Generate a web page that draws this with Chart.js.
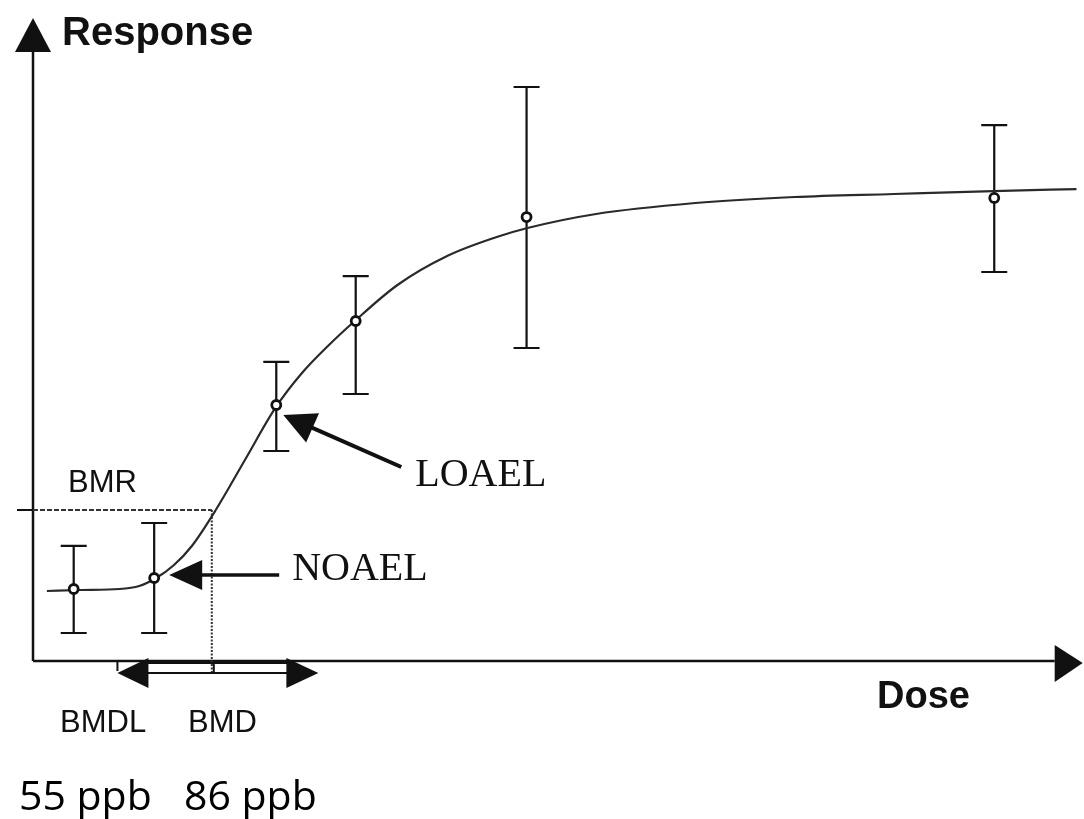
<!DOCTYPE html>
<html>
<head>
<meta charset="utf-8">
<script src="https://cdn.jsdelivr.net/npm/chart.js@4/dist/chart.umd.min.js"></script>
<style>
  html, body { margin: 0; padding: 0; background: #fff; }
  #wrap { width: 1084px; height: 819px; }
</style>
</head>
<body>
<div id="wrap"><canvas id="c" width="1084" height="819"></canvas></div>
<script>
// ---- Data (arbitrary dose / response units) ----
const doseGroups   = [3.90, 11.61, 23.31, 30.92, 47.29, 92.10];
const meanResponse = [11.41, 13.15, 40.57, 53.88, 70.36, 73.38];
const upperBar     = [18.23, 21.87, 47.39, 60.98, 90.97, 84.94];
const lowerBar     = [4.44, 4.44, 33.28, 42.31, 49.60, 61.65];

const curveDose     = [1.33, 4.47, 8.28, 10.18, 11.80, 13.51, 15.22, 17.51, 20.36, 23.22, 25.69, 28.26, 30.83, 34.92, 39.68, 44.43, 47.38, 53.95, 63.46, 72.98, 82.49, 92.01, 100.0];
const curveResponse = [11.09, 11.25, 11.41, 11.89, 13.15, 15.21, 18.23, 23.93, 32.01, 40.10, 45.48, 49.92, 53.88, 59.59, 64.18, 67.19, 68.62, 70.84, 72.58, 73.53, 74.01, 74.48, 74.79];

const bmrLevel = 23.93;   // benchmark response
const bmdDose  = 17.13;   // BMD
const bmdlDose = 8.09;    // BMDL
const noaelIndex = 1;
const loaelIndex = 2;

const axisLabels = { y: 'Response', x: 'Dose' };
const bmLabels   = ['BMR', 'BMDL', 'BMD'];
const effectLabels = ['NOAEL', 'LOAEL'];
const ppbLabels  = ['55 ppb', '86 ppb'];

// ---- Drawing helpers ----
const INK = '#111';
function tri(ctx, pts) {
  ctx.beginPath();
  ctx.moveTo(pts[0][0], pts[0][1]);
  ctx.lineTo(pts[1][0], pts[1][1]);
  ctx.lineTo(pts[2][0], pts[2][1]);
  ctx.closePath();
  ctx.fill();
}
function arrowTo(ctx, fromX, fromY, tipX, tipY, headLen, headHalf, shaftW) {
  const dx = tipX - fromX, dy = tipY - fromY;
  const L = Math.hypot(dx, dy);
  const ux = dx / L, uy = dy / L;
  const bx = tipX - ux * headLen, by = tipY - uy * headLen;
  ctx.lineWidth = shaftW;
  ctx.beginPath();
  ctx.moveTo(fromX, fromY);
  ctx.lineTo(bx + ux * 2, by + uy * 2);
  ctx.stroke();
  tri(ctx, [[tipX, tipY], [bx - uy * headHalf, by + ux * headHalf], [bx + uy * headHalf, by - ux * headHalf]]);
}

const schematicPlugin = {
  id: 'schematic',
  beforeDatasetsDraw(chart) {
    const ctx = chart.ctx;
    const xs = chart.scales.x, ys = chart.scales.y;
    const x0 = xs.getPixelForValue(0), y0 = ys.getPixelForValue(0);
    const xEnd = xs.getPixelForValue(xs.max), yTop = ys.getPixelForValue(ys.max);
    ctx.save();
    ctx.strokeStyle = INK; ctx.fillStyle = INK; ctx.lineCap = 'butt';

    // Axes with arrow heads
    ctx.lineWidth = 2.5;
    ctx.beginPath();
    ctx.moveTo(x0, y0); ctx.lineTo(x0, yTop + 20);
    ctx.moveTo(x0, y0); ctx.lineTo(xEnd - 22, y0);
    ctx.stroke();
    tri(ctx, [[x0, yTop - 12], [x0 - 18, yTop + 22], [x0 + 18, yTop + 22]]);
    tri(ctx, [[xEnd + 6, y0 + 2], [xEnd - 22, y0 - 16], [xEnd - 22, y0 + 21]]);

    // Error bars
    ctx.lineWidth = 2.2;
    doseGroups.forEach((d, i) => {
      const px = xs.getPixelForValue(d);
      const pHi = ys.getPixelForValue(upperBar[i]);
      const pLo = ys.getPixelForValue(lowerBar[i]);
      ctx.beginPath();
      ctx.moveTo(px, pHi); ctx.lineTo(px, pLo);
      ctx.moveTo(px - 13, pHi); ctx.lineTo(px + 13, pHi);
      ctx.moveTo(px - 13, pLo); ctx.lineTo(px + 13, pLo);
      ctx.stroke();
    });

    // BMR line: short solid tick left of the axis, dotted to the curve
    const pBmr = ys.getPixelForValue(bmrLevel);
    const pBmd = xs.getPixelForValue(bmdDose);
    const pBmdl = xs.getPixelForValue(bmdlDose);
    ctx.lineWidth = 2;
    ctx.beginPath(); ctx.moveTo(x0 - 16, pBmr); ctx.lineTo(x0, pBmr); ctx.stroke();
    ctx.setLineDash([5, 2]);
    ctx.strokeStyle = '#333';
    ctx.beginPath(); ctx.moveTo(x0, pBmr); ctx.lineTo(pBmd, pBmr); ctx.stroke();
    ctx.setLineDash([2, 1.5]);
    ctx.beginPath(); ctx.moveTo(pBmd, pBmr); ctx.lineTo(pBmd, y0 + 13); ctx.stroke();
    ctx.setLineDash([]);
    ctx.strokeStyle = INK;

    // BMDL - BMD double arrow (hollow shaft)
    const yA = y0 + 12;
    const rightTip = pBmd + (pBmd - pBmdl) * 1.13;
    ctx.lineWidth = 2;
    ctx.beginPath();
    ctx.moveTo(pBmdl, y0); ctx.lineTo(pBmdl, y0 + 10);
    ctx.moveTo(pBmdl + 28, y0 + 2); ctx.lineTo(rightTip - 30, y0 + 2);
    ctx.moveTo(pBmdl + 28, yA); ctx.lineTo(rightTip - 30, yA);
    ctx.moveTo(pBmd + 2, y0); ctx.lineTo(pBmd + 2, yA);
    ctx.stroke();
    tri(ctx, [[pBmdl, yA], [pBmdl + 31, yA - 15], [pBmdl + 31, yA + 15]]);
    tri(ctx, [[rightTip, yA], [rightTip - 32, yA - 15], [rightTip - 32, yA + 15]]);
    ctx.restore();
  },
  afterDatasetsDraw(chart) {
    const ctx = chart.ctx;
    const xs = chart.scales.x, ys = chart.scales.y;
    const x0 = xs.getPixelForValue(0), y0 = ys.getPixelForValue(0);
    const yTop = ys.getPixelForValue(ys.max);
    ctx.save();
    ctx.strokeStyle = INK; ctx.fillStyle = INK;

    // NOAEL arrow and label
    const nx = xs.getPixelForValue(doseGroups[noaelIndex]);
    const ny = ys.getPixelForValue(meanResponse[noaelIndex]);
    arrowTo(ctx, nx + 125, ny - 3, nx + 15, ny - 3, 33, 15, 3.5);
    ctx.font = '40px "Liberation Serif", "Times New Roman", serif';
    ctx.textBaseline = 'alphabetic';
    ctx.fillText(effectLabels[0], nx + 138, ny + 2);

    // LOAEL arrow and label
    const lx = xs.getPixelForValue(doseGroups[loaelIndex]);
    const ly = ys.getPixelForValue(meanResponse[loaelIndex]);
    arrowTo(ctx, lx + 125, ly + 62, lx + 7, ly + 10, 32, 16, 4);
    ctx.fillText(effectLabels[1], lx + 139, ly + 81);

    // Axis titles
    ctx.font = 'bold 40px "Liberation Sans", Arial, sans-serif';
    ctx.fillText(axisLabels.y, x0 + 29, yTop + 15);
    ctx.font = 'bold 38px "Liberation Sans", Arial, sans-serif';
    ctx.fillText(axisLabels.x, 877, y0 + 47);

    // BMR / BMDL / BMD
    const pBmr = ys.getPixelForValue(bmrLevel);
    ctx.font = '31px "Liberation Sans", Arial, sans-serif';
    ctx.fillText(bmLabels[0], x0 + 35, pBmr - 18);
    ctx.fillText(bmLabels[1], 60, y0 + 71);
    ctx.fillText(bmLabels[2], 188, y0 + 71);

    // ppb values
    ctx.font = '41px "Open Sans", "Noto Sans", sans-serif';
    ctx.fillStyle = '#000';
    ctx.fillText(ppbLabels[0], 19, 810);
    ctx.fillText(ppbLabels[1], 184, 810);
    ctx.restore();
  }
};

const curvePoints = curveDose.map((d, i) => ({ x: d, y: curveResponse[i] }));
const meanPoints  = doseGroups.map((d, i) => ({ x: d, y: meanResponse[i] }));

new Chart(document.getElementById('c'), {
  type: 'scatter',
  data: {
    datasets: [
      {
        label: 'means',
        data: meanPoints,
        order: 0,
        pointStyle: 'circle',
        pointRadius: 4.5,
        pointBorderWidth: 2.8,
        pointBackgroundColor: '#fff',
        pointBorderColor: INK,
        showLine: false
      },
      {
        label: 'fitted curve',
        data: curvePoints,
        order: 1,
        showLine: true,
        borderColor: '#2a2a2a',
        borderWidth: 2.2,
        pointRadius: 0,
        cubicInterpolationMode: 'monotone',
        fill: false
      }
    ]
  },
  options: {
    responsive: false,
    animation: false,
    devicePixelRatio: 1,
    layout: { padding: { left: 33, right: 0, top: 30, bottom: 158 } },
    plugins: { legend: { display: false }, tooltip: { enabled: false } },
    scales: {
      x: { type: 'linear', min: 0, max: 100, display: false },
      y: { type: 'linear', min: 0, max: 100, display: false }
    }
  },
  plugins: [schematicPlugin]
});
</script>
</body>
</html>
